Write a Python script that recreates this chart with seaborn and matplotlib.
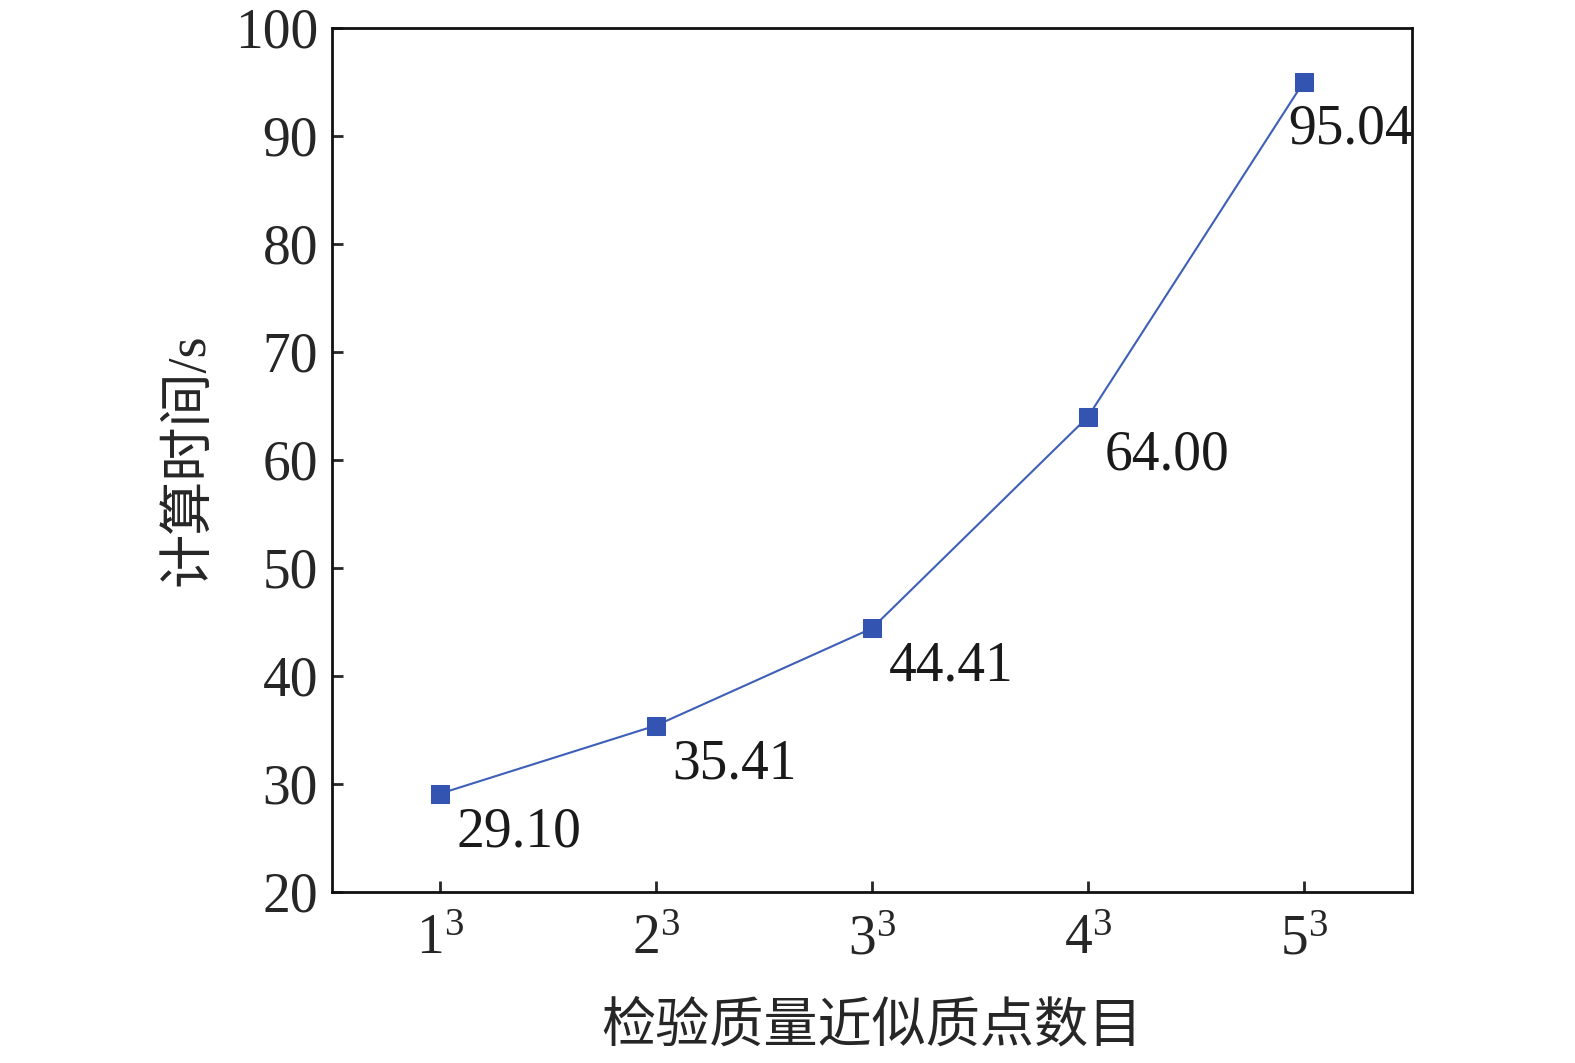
import pandas as pd
import matplotlib
matplotlib.use('Agg')
import matplotlib.pyplot as plt
import seaborn as sns

# data
categories = ['$1^3$', '$2^3$', '$3^3$', '$4^3$', '$5^3$']
calc_time = [29.10, 35.41, 44.41, 64.00, 95.04]
y_ticks = [20, 30, 40, 50, 60, 70, 80, 90, 100]

x_label = '检验质量近似质点数目'
y_label = '计算时间/s'

sns.set_style('ticks')
plt.rcParams['font.family'] = ['Liberation Serif', 'Noto Sans CJK SC']
plt.rcParams['mathtext.fontset'] = 'custom'
plt.rcParams['mathtext.rm'] = 'Liberation Serif'
plt.rcParams['mathtext.it'] = 'Liberation Serif'

df = pd.DataFrame({'pos': range(1, len(categories) + 1), 'time': calc_time})

fig = plt.figure(figsize=(15.75, 10.63), dpi=100)
ax = fig.add_axes([0.2108, 0.1609, 0.6857, 0.8128])

color = '#3354b0'
sns.lineplot(x='pos', y='time', data=df, ax=ax, color='#3d5fb8', linewidth=1.5,
             marker='s', markersize=13, markerfacecolor=color,
             markeredgecolor=color)

for i, (xv, yv) in enumerate(zip(df['pos'], df['time'])):
    last = i == len(calc_time) - 1
    ax.annotate(f'{yv:.2f}', (xv, yv), xytext=(-11 if last else 12, -16 if last else -9),
                textcoords='offset points', ha='left', va='top',
                fontsize=40, color='#1a1a1a')

ax.set_xlim(0.5, 5.5)
ax.set_ylim(20, 100)
ax.set_xticks(df['pos'])
ax.set_xticklabels(categories, fontsize=40)
ax.set_yticks(y_ticks)
ax.tick_params(axis='y', labelsize=40, direction='in', length=8, width=2, pad=10)
ax.tick_params(axis='x', direction='in', length=8, width=2, pad=16)
for s in ax.spines.values():
    s.set_linewidth(2)
    s.set_color('#111111')

ax.set_xlabel(x_label, fontsize=39, labelpad=26)
ax.set_ylabel(y_label, fontsize=39, labelpad=14)

fig.savefig('out.png', dpi=100)
